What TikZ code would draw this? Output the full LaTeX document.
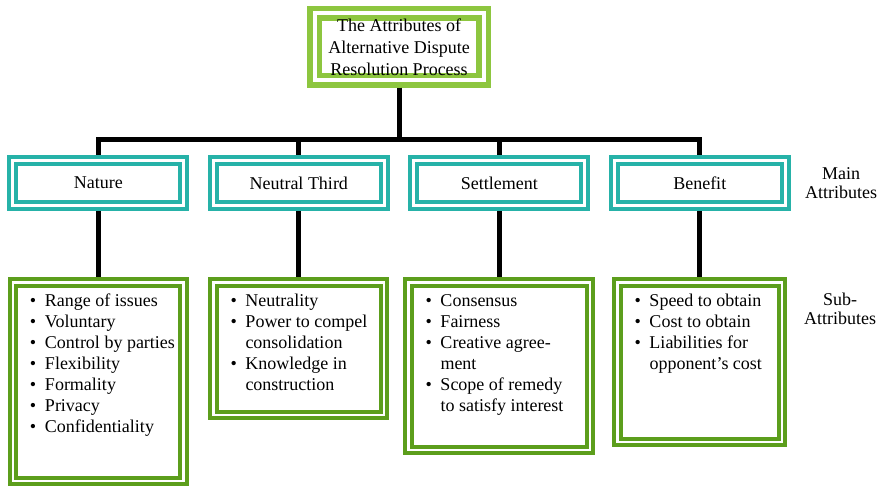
\documentclass[tikz,border=0pt]{standalone}
\usepackage{fontspec}
\setmainfont{Liberation Serif}
\usepackage{tikz}
\usetikzlibrary{shapes}

\definecolor{titlegreen}{RGB}{141,198,63}
\definecolor{mainteal}{RGB}{38,178,168}
\definecolor{subgreen}{RGB}{92,158,28}

% one bulleted line of a sub-attribute list
\newcommand{\attr}[1]{\noindent\hangindent=32pt\hangafter=1\strut\makebox[32pt][l]{\hspace{17pt}\textbullet}#1\par}
% list of sub-attributes: width, height, items
\newcommand{\attrlist}[3]{\parbox[t][#2][t]{#1}{\vspace*{9.55pt}#3}}

\begin{document}
\begin{tikzpicture}[level distance=136pt,
      every node/.style={font=\fontsize{18}{21}\selectfont, inner sep=0pt},
      edge from parent/.style={draw, line width=5pt},
      edge from parent path={(\tikzparentnode.south) |- ([yshift=15.5pt]\tikzchildnode.north) -- (\tikzchildnode.north)},
      level 1/.style={sibling distance=200.5pt},
      level 2/.style={level distance=94pt},
      titlebox/.style={draw=titlegreen, double=white, double distance=4pt, line width=5.5pt,
        outer sep=7.5pt, minimum width=169pt, minimum height=67pt, align=center,
        font=\fontsize{18}{22}\selectfont},
      mainbox/.style={draw=mainteal, double=white, double distance=3pt, line width=4pt,
        outer sep=5.5pt, minimum width=171pt, minimum height=45pt},
      subbox/.style={draw=subgreen, double=white, double distance=2.5pt, line width=4pt,
        outer sep=5.25pt, anchor=north},
      sidelabel/.style={align=center, font=\fontsize{18}{19}\selectfont}]
    \useasboundingbox (0,0) rectangle (879pt,-487pt);
    \node[titlebox] (adr) at (399pt,-47pt) {The Attributes of\\Alternative Dispute\\Resolution Process}
    child {
      node[mainbox] (nature) {Nature}
      child {
        node[subbox] (naturelist) {\attrlist{170.5pt}{198.5pt}{%
          \attr{Range of issues}
          \attr{Voluntary}
          \attr{Control by parties}
          \attr{Flexibility}
          \attr{Formality}
          \attr{Privacy}
          \attr{Confidentiality}}}
      }
    }
    child {
      node[mainbox] (third) {Neutral Third}
      child {
        node[subbox] (thirdlist) {\attrlist{170.5pt}{132.5pt}{%
          \attr{Neutrality}
          \attr{Power to compel\newline consolidation}
          \attr{Knowledge in\newline construction}}}
      }
    }
    child {
      node[mainbox] (settle) {Settlement}
      child {
        node[subbox] (settlelist) {\attrlist{181.5pt}{167.5pt}{%
          \attr{Consensus}
          \attr{Fairness}
          \attr{Creative agree-\newline ment}
          \attr{Scope of remedy\newline to satisfy interest}}}
      }
    }
    child {
      node[mainbox] (benefit) {Benefit}
      child {
        node[subbox] (benefitlist) {\attrlist{164.5pt}{159.5pt}{%
          \attr{Speed to obtain}
          \attr{Cost to obtain}
          \attr{Liabilities for\newline opponent's cost}}}
      }
    };
    \node[sidelabel] (mainlabel) at (841pt,-183pt) {Main\\Attributes};
    \node[sidelabel] (sublabel) at (840pt,-309pt) {Sub-\\Attributes};
  \end{tikzpicture}
\end{document}
